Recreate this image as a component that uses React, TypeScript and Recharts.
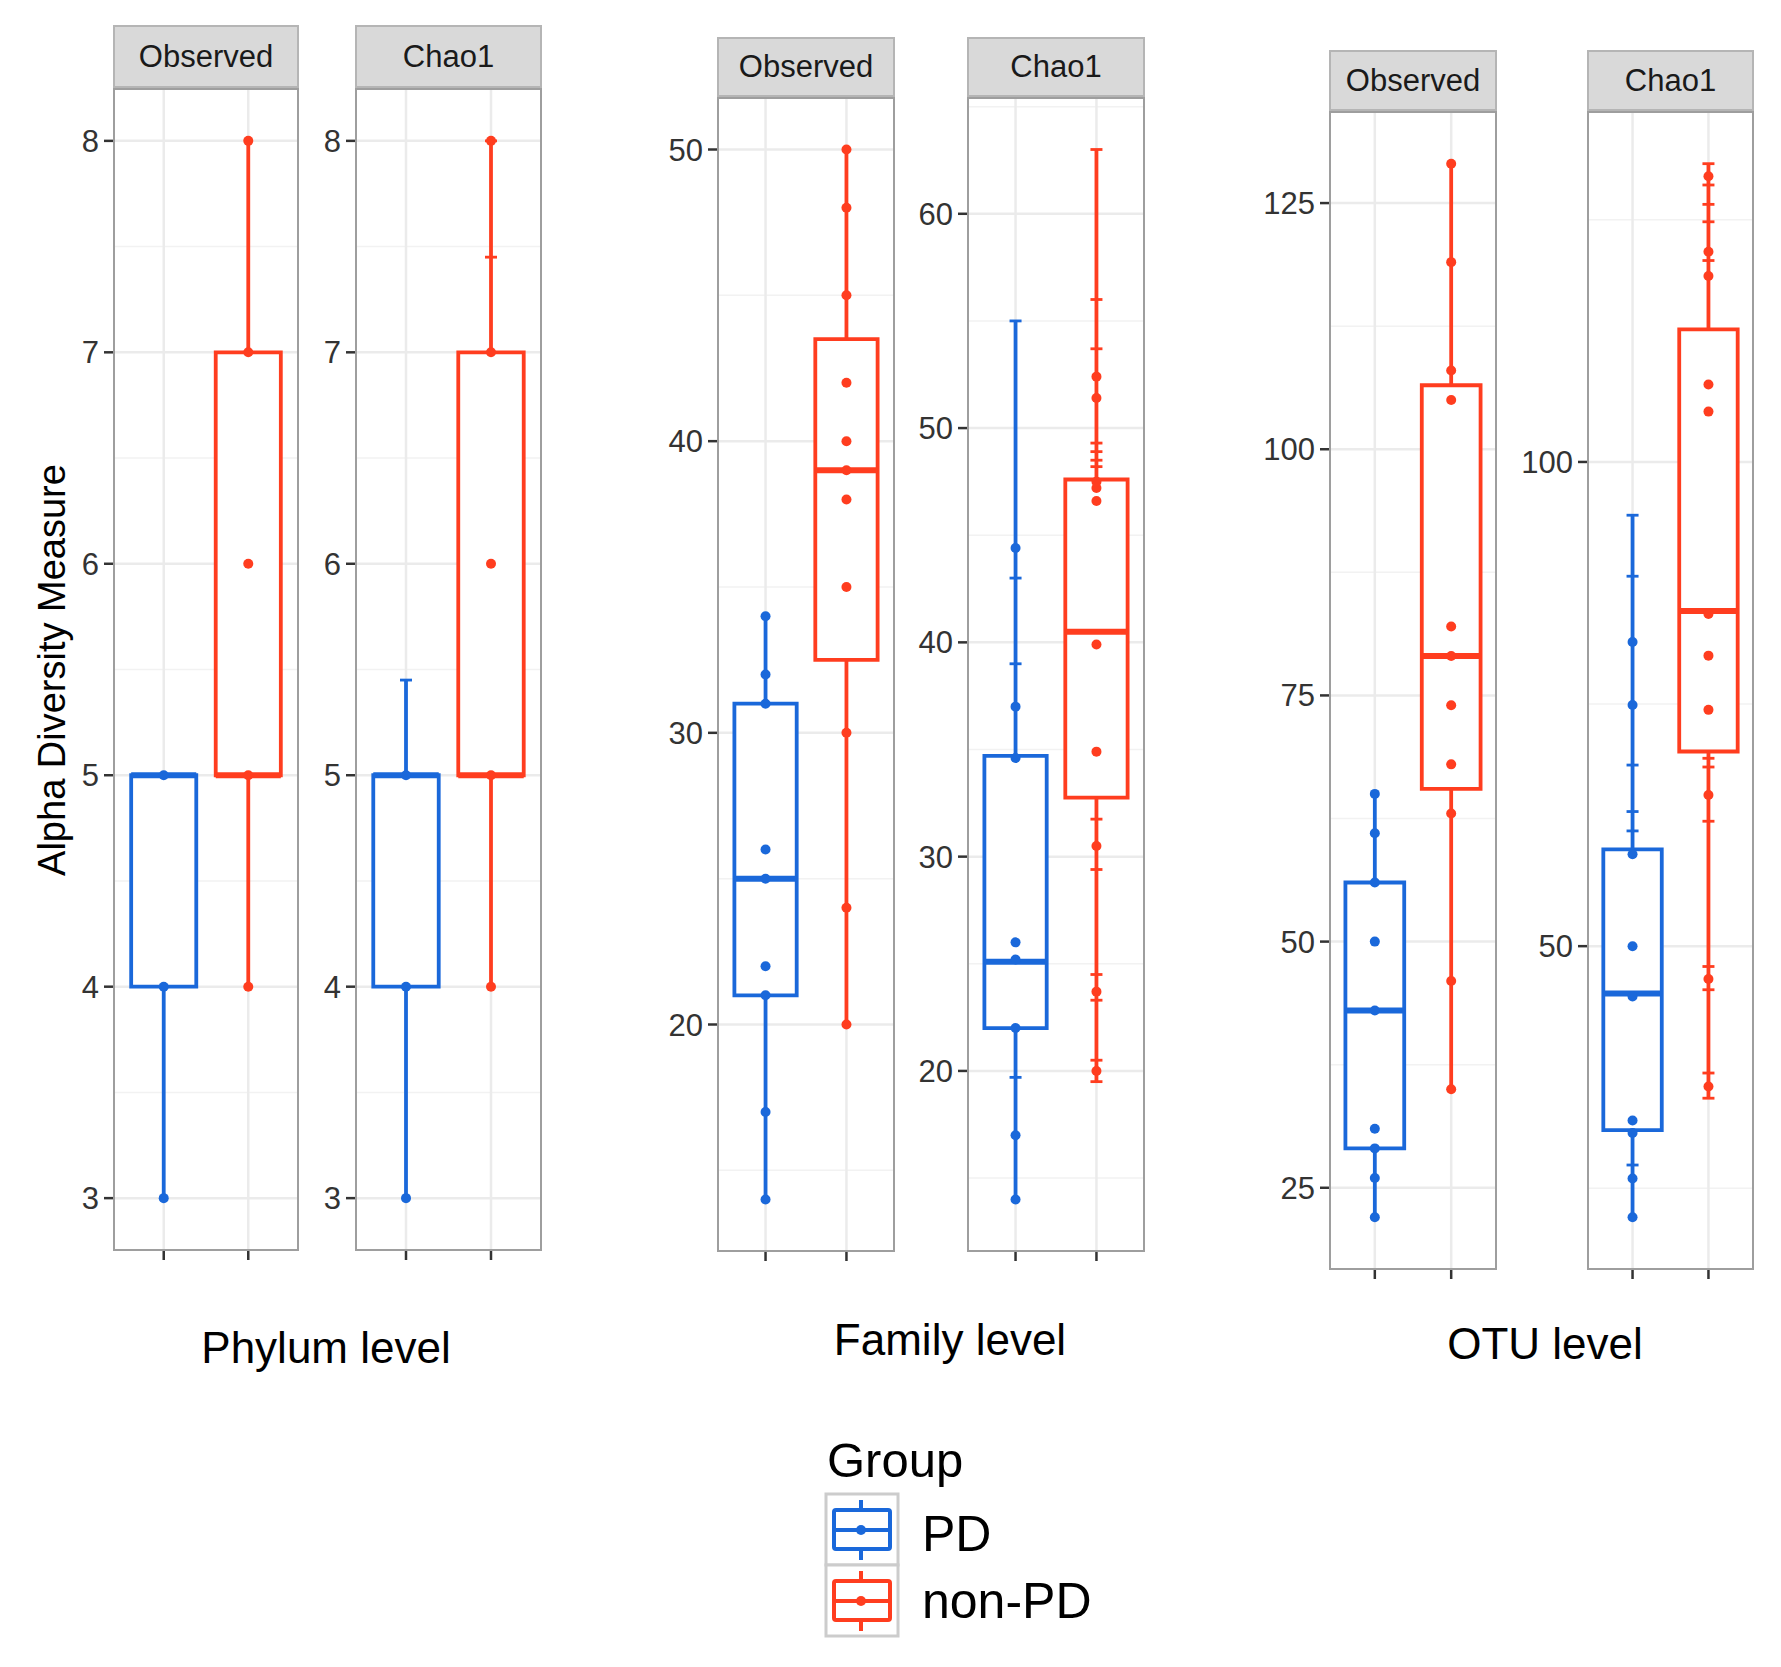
import React from 'react';
import {
  ComposedChart,
  XAxis,
  YAxis,
  CartesianGrid,
  ReferenceArea,
  ReferenceLine,
  Scatter,
} from 'recharts';

const GROUPS = ['PD', 'non-PD'];
const COLORS = ['#1A68DA', '#FF3D1F'];
const LEVELS = ['Phylum level', 'Family level', 'OTU level'];
const MEASURES = ['Observed', 'Chao1'];
const FONT = '"Liberation Sans", Arial, Helvetica, sans-serif';

// box stats per group: [min, q1, median, q3, max] -> [PD, non-PD]
const phylumObsBox = [[3, 4, 5, 5, 5], [4, 5, 5, 7, 8]];
const phylumObsPts = [[3, 4, 5], [4, 5, 6, 7, 8]];
const phylumChaoBox = [[3, 4, 5, 5, 5.45], [4, 5, 5, 7, 8]];
const phylumChaoPts = [[3, 4, 5], [4, 5, 6, 7, 8]];
const phylumChaoCaps = [[5.45], [7.45, 8]];
const phylumTicks = [3, 4, 5, 6, 7, 8];

const familyObsBox = [[14, 21, 25, 31, 34], [20, 32.5, 39, 43.5, 50]];
const familyObsPts = [
  [14, 17, 21, 22, 25, 26, 31, 32, 34],
  [20, 24, 30, 35, 38, 39, 40, 42, 45, 48, 50],
];
const familyObsTicks = [20, 30, 40, 50];
const familyChaoBox = [[14, 22, 25.1, 34.7, 55], [19.5, 32.75, 40.5, 47.6, 63]];
const familyChaoPts = [
  [14, 17, 22, 25.2, 26, 34.6, 37, 44.4],
  [20, 23.7, 30.5, 34.9, 39.9, 46.6, 47.2, 47.5, 51.4, 52.4],
];
const familyChaoCaps = [
  [19.7, 39, 43, 55],
  [19.5, 20.5, 23.3, 24.5, 29.4, 31.75, 48.2, 48.5, 48.9, 49.3, 53.7, 56, 63],
];
const familyChaoTicks = [20, 30, 40, 50, 60];

const otuObsBox = [[22, 29, 43, 56, 65], [35, 65.5, 79, 106.5, 129]];
const otuObsPts = [
  [22, 26, 29, 31, 43, 50, 56, 61, 65],
  [35, 46, 63, 68, 74, 79, 82, 105, 108, 119, 129],
];
const otuObsTicks = [25, 50, 75, 100, 125];
const otuChaoBox = [[22, 31, 45.1, 60, 94.5], [34.3, 70.1, 84.6, 113.7, 130.8]];
const otuChaoPts = [
  [22, 26, 30.7, 32, 44.8, 50, 59.5, 74.9, 81.4],
  [35.5, 46.6, 65.6, 74.4, 80, 84.3, 105.2, 108, 119.2, 121.7, 129.5],
];
const otuChaoCaps = [
  [27.4, 61.9, 63.9, 68.7, 88.2, 94.5],
  [34.3, 36.9, 45.5, 47.9, 62.9, 68.5, 69.4, 120.8, 124.8, 126.6, 128.6, 130.8],
];
const otuChaoTicks = [50, 100];

const PANELS = [
  { measure: 0, box: phylumObsBox, pts: phylumObsPts, caps: null, ticks: phylumTicks, left: 113, right: 299, stripTop: 25, top: 88, bottom: 1251 },
  { measure: 1, box: phylumChaoBox, pts: phylumChaoPts, caps: phylumChaoCaps, ticks: phylumTicks, left: 355, right: 542, stripTop: 25, top: 88, bottom: 1251 },
  { measure: 0, box: familyObsBox, pts: familyObsPts, caps: null, ticks: familyObsTicks, left: 717, right: 895, stripTop: 37, top: 97, bottom: 1252 },
  { measure: 1, box: familyChaoBox, pts: familyChaoPts, caps: familyChaoCaps, ticks: familyChaoTicks, left: 967, right: 1145, stripTop: 37, top: 97, bottom: 1252 },
  { measure: 0, box: otuObsBox, pts: otuObsPts, caps: null, ticks: otuObsTicks, left: 1329, right: 1497, stripTop: 50, top: 111, bottom: 1270 },
  { measure: 1, box: otuChaoBox, pts: otuChaoPts, caps: otuChaoCaps, ticks: otuChaoTicks, left: 1587, right: 1754, stripTop: 50, top: 111, bottom: 1270 },
];

const LEVEL_POS = [
  { x: 326, y: 1348 },
  { x: 950, y: 1340 },
  { x: 1545, y: 1344 },
];

const YW = 100;
const XH = 24;
const HALF = 0.385;

function Panel({ p }: { p: any }) {
  const all = [...p.box.flat(), ...p.pts.flat(), ...(p.caps ? p.caps.flat() : [])];
  const lo = Math.min(...all);
  const hi = Math.max(...all);
  const pad = (hi - lo) * 0.05;
  const domain = [lo - pad, hi + pad];
  const step = p.ticks[1] - p.ticks[0];
  const minors: number[] = [];
  for (let v = p.ticks[0] - step / 2; v <= p.ticks[p.ticks.length - 1] + step / 2 + 1e-9; v += step) {
    if (v >= domain[0] && v <= domain[1]) minors.push(v);
  }
  const plotW = p.right - p.left;
  const plotH = p.bottom - p.top;

  const items: any[] = [];
  p.box.forEach((b: number[], g: number) => {
    const c = g + 1;
    const col = COLORS[g];
    const [mn, q1, med, q3, mx] = b;
    if (mn < q1)
      items.push(
        <ReferenceLine key={`wl${g}`} segment={[{ x: c, y: mn }, { x: c, y: q1 }]} stroke={col} strokeWidth={3.8} />
      );
    if (mx > q3)
      items.push(
        <ReferenceLine key={`wh${g}`} segment={[{ x: c, y: q3 }, { x: c, y: mx }]} stroke={col} strokeWidth={3.8} />
      );
    items.push(
      <ReferenceArea
        key={`box${g}`}
        x1={c - HALF}
        x2={c + HALF}
        y1={q1}
        y2={q3}
        fill="#ffffff"
        fillOpacity={1}
        stroke={col}
        strokeWidth={3.8}
      />
    );
    items.push(
      <ReferenceLine
        key={`med${g}`}
        segment={[{ x: c - HALF, y: med }, { x: c + HALF, y: med }]}
        stroke={col}
        strokeWidth={6}
      />
    );
  });
  p.pts.forEach((vals: number[], g: number) => {
    items.push(
      <Scatter
        key={`pts${g}`}
        name={GROUPS[g]}
        data={vals.map((v) => ({ x: g + 1, y: v }))}
        isAnimationActive={false}
        shape={(s: any) => <circle cx={s.cx} cy={s.cy} r={5} fill={COLORS[g]} />}
      />
    );
  });
  if (p.caps) {
    p.caps.forEach((vals: number[], g: number) => {
      items.push(
        <Scatter
          key={`caps${g}`}
          data={vals.map((v) => ({ x: g + 1, y: v }))}
          isAnimationActive={false}
          shape={(s: any) => (
            <line x1={s.cx - 6} x2={s.cx + 6} y1={s.cy} y2={s.cy} stroke={COLORS[g]} strokeWidth={2.8} />
          )}
        />
      );
    });
  }

  return (
    <>
      <div
        style={{
          position: 'absolute',
          left: p.left,
          top: p.stripTop,
          width: plotW,
          height: p.top - p.stripTop,
          background: '#D9D9D9',
          border: '2px solid #B5B5B5',
          boxSizing: 'border-box',
          display: 'flex',
          alignItems: 'center',
          justifyContent: 'center',
          fontSize: 31,
          color: '#1A1A1A',
          fontFamily: FONT,
        }}
      >
        {MEASURES[p.measure]}
      </div>
      <div style={{ position: 'absolute', left: p.left - YW, top: p.top }}>
        <ComposedChart width={YW + plotW} height={plotH + XH} margin={{ top: 0, right: 0, bottom: 0, left: 0 }}>
          <CartesianGrid
            horizontalValues={minors}
            vertical={false}
            stroke="#F2F2F2"
            strokeWidth={1.5}
          />
          <CartesianGrid
            horizontalValues={p.ticks}
            verticalValues={[1, 2]}
            stroke="#EBEBEB"
            strokeWidth={2.5}
          />
          <XAxis
            type="number"
            dataKey="x"
            domain={[0.4, 2.6]}
            ticks={[1, 2]}
            allowDataOverflow
            tickFormatter={() => ''}
            axisLine={false}
            tickLine={{ stroke: '#333333', strokeWidth: 2.5 }}
            tickSize={9}
            height={XH}
          />
          <YAxis
            type="number"
            dataKey="y"
            domain={domain}
            ticks={p.ticks}
            allowDataOverflow
            axisLine={false}
            tickLine={{ stroke: '#333333', strokeWidth: 2.5 }}
            tickSize={9}
            tickMargin={5}
            width={YW}
            tick={{ fontSize: 31, fill: '#333333', fontFamily: FONT }}
          />
          {items}
        </ComposedChart>
        <div
          style={{
            position: 'absolute',
            left: YW,
            top: 0,
            width: plotW,
            height: plotH,
            border: '2px solid #9E9E9E',
            boxSizing: 'border-box',
            pointerEvents: 'none',
          }}
        />
      </div>
    </>
  );
}

function LegendKey({ color, top }: { color: string; top: number }) {
  return (
    <g transform={`translate(826, ${top})`}>
      <rect x={0} y={0} width={72} height={71} fill="#FFFFFF" stroke="#CCCCCC" strokeWidth={3} />
      <line x1={35} x2={35} y1={6} y2={16} stroke={color} strokeWidth={4} />
      <line x1={35} x2={35} y1={55} y2={66} stroke={color} strokeWidth={4} />
      <rect x={8} y={16} width={56} height={39} rx={2} fill="#FFFFFF" stroke={color} strokeWidth={4} />
      <line x1={8} x2={64} y1={36} y2={36} stroke={color} strokeWidth={4} />
      <circle cx={35} cy={36} r={5} fill={color} />
    </g>
  );
}

export default function App() {
  return (
    <div
      style={{
        position: 'absolute',
        left: 0,
        top: 0,
        width: 1781,
        height: 1667,
        background: '#FFFFFF',
        fontFamily: FONT,
        overflow: 'hidden',
      }}
    >
      {PANELS.map((p, i) => (
        <Panel key={i} p={p} />
      ))}
      <div
        style={{
          position: 'absolute',
          left: 52,
          top: 670,
          transform: 'translate(-50%, -50%) rotate(-90deg)',
          fontSize: 38,
          color: '#000',
          whiteSpace: 'nowrap',
        }}
      >
        Alpha Diversity Measure
      </div>
      {LEVELS.map((t, i) => (
        <div
          key={t}
          style={{
            position: 'absolute',
            left: LEVEL_POS[i].x,
            top: LEVEL_POS[i].y,
            transform: 'translate(-50%, -50%)',
            fontSize: 44,
            color: '#000',
            whiteSpace: 'nowrap',
          }}
        >
          {t}
        </div>
      ))}
      <svg style={{ position: 'absolute', left: 0, top: 0 }} width={1781} height={1667}>
        <text x={827} y={1477} fontSize={49} fontFamily={FONT} fill="#000">
          Group
        </text>
        <LegendKey color={COLORS[0]} top={1494} />
        <LegendKey color={COLORS[1]} top={1565} />
        <text x={922} y={1551} fontSize={50} fontFamily={FONT} fill="#000">
          {GROUPS[0]}
        </text>
        <text x={922} y={1618} fontSize={50} fontFamily={FONT} fill="#000">
          {GROUPS[1]}
        </text>
      </svg>
    </div>
  );
}
